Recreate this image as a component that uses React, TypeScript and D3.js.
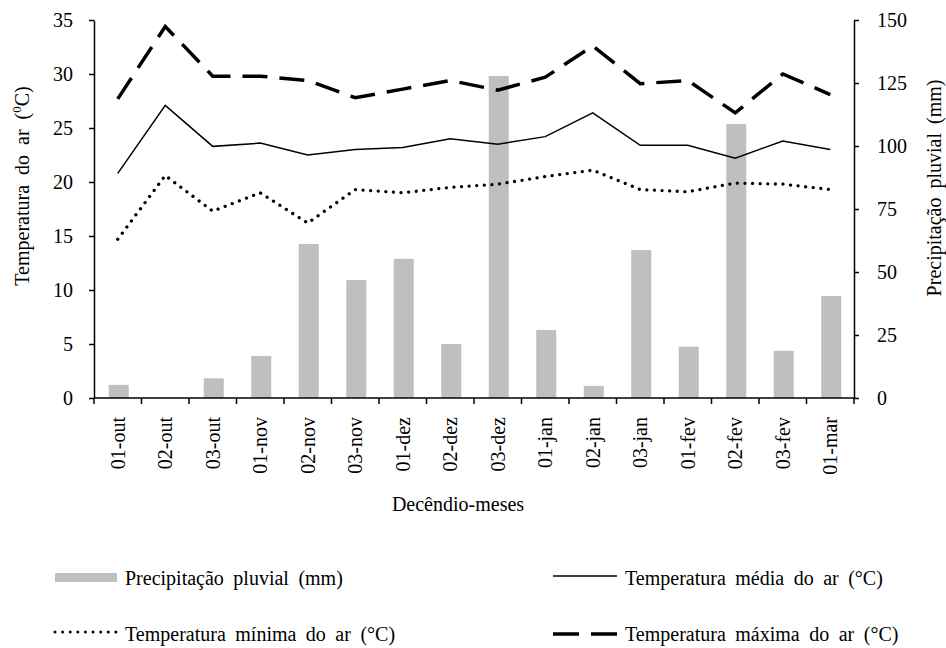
import React from "react";
import * as d3 from "d3";

const categories = [
    "01-out", "02-out", "03-out", "01-nov", "02-nov", "03-nov", "01-dez", "02-dez",
    "03-dez", "01-jan", "02-jan", "03-jan", "01-fev", "02-fev", "03-fev", "01-mar",
];
const precipitation = [5.2, 0, 7.8, 16.7, 61.1, 46.8, 55.2, 21.4, 127.8, 27, 4.8, 58.7, 20.4, 108.7, 18.7, 40.5];
const tempMean = [20.8, 27.1, 23.3, 23.6, 22.5, 23.0, 23.2, 24.0, 23.5, 24.2, 26.4, 23.4, 23.4, 22.2, 23.8, 23.0];
const tempMax = [27.7, 34.4, 29.8, 29.8, 29.4, 27.8, 28.6, 29.4, 28.5, 29.7, 32.6, 29.1, 29.4, 26.4, 30.0, 28.1];
const tempMin = [14.7, 20.6, 17.3, 19.0, 16.2, 19.3, 19.0, 19.5, 19.8, 20.5, 21.1, 19.3, 19.1, 19.9, 19.8, 19.3];
const leftTicks = [0, 5, 10, 15, 20, 25, 30, 35];
const rightTicks = [0, 25, 50, 75, 100, 125, 150];

const width = 946;
const height = 648;
const margin = { left: 94, right: 92, top: 20, bottom: 250 };
const font = "'Liberation Serif', 'Times New Roman', serif";

const App = () => {
    const svgRef = React.useRef(null);

    React.useEffect(() => {
        document.body.style.margin = "0";
        const innerW = width - margin.left - margin.right;
        const innerH = height - margin.top - margin.bottom;

        const x = d3.scaleBand().domain(categories).range([0, innerW]);
        const yLeft = d3.scaleLinear().domain([0, 35]).range([innerH, 0]);
        const yRight = d3.scaleLinear().domain([0, 150]).range([innerH, 0]);

        const svgEl = d3.select(svgRef.current);
        svgEl.selectAll("*").remove();
        const svg = svgEl.append("g").attr("transform", `translate(${margin.left},${margin.top})`);

        // bars (right axis)
        const barW = 20;
        svg.selectAll(".bar")
            .data(precipitation)
            .enter()
            .append("rect")
            .attr("x", (d, i) => x(categories[i]) + x.bandwidth() / 2 - barW / 2 + 1)
            .attr("y", (d) => yRight(d))
            .attr("width", barW)
            .attr("height", (d) => innerH - yRight(d))
            .attr("fill", "#bfbfbf");

        // lines
        const line = d3
            .line<number>()
            .x((d, i) => x(categories[i]) + x.bandwidth() / 2)
            .y((d) => yLeft(d));
        svg.append("path")
            .attr("fill", "none")
            .attr("stroke", "#000")
            .attr("stroke-width", 1.5)
            .attr("d", line(tempMean));
        svg.append("path")
            .attr("fill", "none")
            .attr("stroke", "#000")
            .attr("stroke-width", 3.3)
            .attr("stroke-linecap", "round")
            .attr("stroke-dasharray", "0.01 7.6")
            .attr("d", line(tempMin));
        svg.append("path")
            .attr("fill", "none")
            .attr("stroke", "#000")
            .attr("stroke-width", 3.5)
            .attr("stroke-dasharray", "25 12")
            .attr("d", line(tempMax));

        // axes
        const styleAxis = (g) => {
            g.select(".domain").attr("stroke", "#000").attr("stroke-width", 1.5);
            g.selectAll("line").attr("stroke", "#000").attr("stroke-width", 1.5);
            g.selectAll("text")
                .attr("fill", "#000")
                .attr("font-family", font)
                .attr("font-size", "20px");
        };
        const leftAxis = svg.append("g").call(
            d3.axisLeft(yLeft).tickValues(leftTicks).tickSize(5).tickSizeOuter(0).tickPadding(16)
        );
        styleAxis(leftAxis);
        const rightAxis = svg
            .append("g")
            .attr("transform", `translate(${innerW},0)`)
            .call(d3.axisRight(yRight).tickValues(rightTicks).tickSize(5).tickSizeOuter(0).tickPadding(18));
        styleAxis(rightAxis);

        const xAxis = svg.append("g").attr("transform", `translate(0,${innerH})`);
        xAxis.append("line")
            .attr("x1", 0)
            .attr("x2", innerW)
            .attr("stroke", "#000")
            .attr("stroke-width", 1.5);
        xAxis.selectAll(".tick")
            .data(d3.range(categories.length + 1))
            .enter()
            .append("line")
            .attr("x1", (i) => i * x.step())
            .attr("x2", (i) => i * x.step())
            .attr("y1", 0)
            .attr("y2", 6)
            .attr("stroke", "#000")
            .attr("stroke-width", 1.5);
        xAxis.selectAll(".lbl")
            .data(categories)
            .enter()
            .append("text")
            .attr("transform", (d) => `translate(${x(d) + x.bandwidth() / 2 + 7},19) rotate(-90)`)
            .attr("text-anchor", "end")
            .attr("font-family", font)
            .attr("font-size", "20px")
            .text((d) => d);

        // axis titles
        svgEl.append("text")
            .attr("transform", `translate(29,186) rotate(-90)`)
            .attr("text-anchor", "middle")
            .attr("font-family", font)
            .attr("font-size", "20px")
            .attr("word-spacing", "5px")
            .html("Temperatura do ar (<tspan dy='-8' font-size='13px'>0</tspan><tspan dy='8'>C)</tspan>");
        svgEl.append("text")
            .attr("transform", `translate(941,188) rotate(-90)`)
            .attr("text-anchor", "middle")
            .attr("font-family", font)
            .attr("font-size", "20px")
            .attr("word-spacing", "4px")
            .text("Precipitação pluvial (mm)");
        svgEl.append("text")
            .attr("x", 458)
            .attr("y", 511)
            .attr("text-anchor", "middle")
            .attr("font-family", font)
            .attr("font-size", "20px")
            .text("Decêndio-meses");

        // legend
        const legend = svgEl.append("g")
            .attr("font-family", font)
            .attr("font-size", "20px")
            .attr("word-spacing", "4.5px");
        legend.append("rect").attr("x", 55).attr("y", 573).attr("width", 62).attr("height", 9).attr("fill", "#bfbfbf");
        legend.append("text").attr("x", 125).attr("y", 585).text("Precipitação pluvial (mm)");
        legend.append("line")
            .attr("x1", 55).attr("x2", 117).attr("y1", 632).attr("y2", 632)
            .attr("stroke", "#000").attr("stroke-width", 3)
            .attr("stroke-linecap", "round").attr("stroke-dasharray", "0.01 7.6");
        legend.append("text").attr("x", 125).attr("y", 641).text("Temperatura mínima do ar (°C)");
        legend.append("line")
            .attr("x1", 553).attr("x2", 617).attr("y1", 576).attr("y2", 576)
            .attr("stroke", "#000").attr("stroke-width", 1.5);
        legend.append("text").attr("x", 625).attr("y", 585).text("Temperatura média do ar (°C)");
        legend.append("line")
            .attr("x1", 553).attr("x2", 617).attr("y1", 634).attr("y2", 634)
            .attr("stroke", "#000").attr("stroke-width", 3.5).attr("stroke-dasharray", "26 12");
        legend.append("text").attr("x", 625).attr("y", 641).text("Temperatura máxima do ar (°C)");
    }, []);

    return <svg ref={svgRef} width={width} height={height} style={{ display: "block" }} />;
};

export default App;
